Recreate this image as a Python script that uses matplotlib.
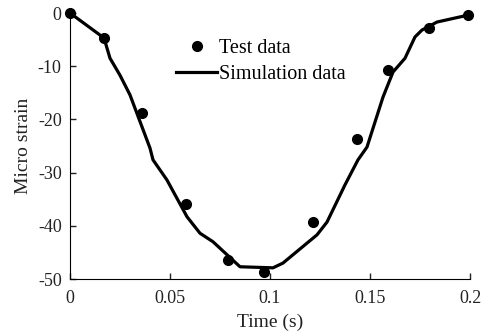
import numpy as np
import matplotlib.pyplot as plt

plt.rcParams['font.family'] = ['Liberation Serif', 'DejaVu Serif']
plt.rcParams['font.size'] = 13
plt.rcParams['axes.unicode_minus'] = False

# Test data (measured points)
test_t = [0.0, 0.017, 0.036, 0.058, 0.079, 0.097, 0.1215, 0.1435, 0.159, 0.1795, 0.199]
test_eps = [0.0, -4.7, -18.8, -35.9, -46.4, -48.6, -39.3, -23.7, -10.7, -2.8, -0.4]

# Simulation data
sim_t = [0.0, 0.017, 0.020, 0.025, 0.030, 0.040, 0.0415, 0.0485, 0.0585, 0.065, 0.0715,
         0.085, 0.1015, 0.1065, 0.1235, 0.1285, 0.1375, 0.144, 0.1485, 0.1565, 0.1615,
         0.1675, 0.1725, 0.176, 0.1835, 0.199]
sim_eps = [0.0, -4.7, -8.5, -11.7, -15.4, -25.4, -27.6, -31.4, -38.3, -41.4, -43.0,
           -47.7, -47.9, -47.0, -41.7, -39.3, -32.3, -27.6, -25.2, -15.8, -11.1,
           -8.5, -4.5, -3.2, -1.7, -0.4]

fig = plt.figure(figsize=(4.82, 3.33), dpi=100, facecolor='white')
ax = fig.add_axes([70 / 482, 1 - 279 / 333, 400 / 482, 266 / 333])

ax.plot(test_t, test_eps, 'o', color='black', markersize=7, clip_on=False, label='Test data')
ax.plot(sim_t, sim_eps, '-', color='black', linewidth=2.3, clip_on=False, label='Simulation data')

ax.set_xlim(0, 0.2)
ax.set_ylim(-50, 0)
ax.set_xticks([0, 0.05, 0.1, 0.15, 0.2])
ax.set_xticklabels(['0', '0.05', '0.1', '0.15', '0.2'])
ax.set_yticks([-50, -40, -30, -20, -10, 0])
ax.spines['top'].set_visible(False)
ax.spines['right'].set_visible(False)
ax.tick_params(direction='in', length=4, width=1, colors='#222222')
ax.tick_params(axis='x', pad=8)
ax.tick_params(axis='y', pad=6)
ax.set_xlabel('Time (s)', fontsize=14, labelpad=4.5, color='#222222')
ax.set_ylabel('Micro strain', fontsize=14, labelpad=4, color='#222222')

leg = ax.legend(loc='upper left', bbox_to_anchor=(168 / 482, 1 - 31 / 333),
                bbox_transform=fig.transFigure, frameon=False, handlelength=2.05,
                handletextpad=0.1, borderaxespad=0, labelspacing=0.35, fontsize=14.5)

fig.savefig('out.png', dpi=100)
